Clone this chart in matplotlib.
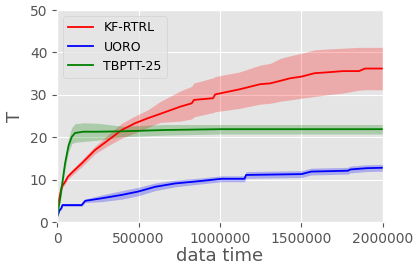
import matplotlib
matplotlib.use("Agg")
import matplotlib.pyplot as plt

# KF-RTRL
x_kf = [0, 12000, 28000, 49000, 66000, 100000, 150000, 233000, 313000, 397000,
        478000, 558000, 632000, 755000, 826000, 840000, 957000, 970000, 1120000, 1245000,
        1307000, 1370000, 1430000, 1500000, 1580000, 1655000, 1755000, 1853000, 1890000, 2000000]
kf_mean = [1.5, 5.4, 8.3, 9.5, 10.7, 12, 13.8, 17, 19.3, 21.7,
           23.3, 24.5, 25.5, 27.2, 28, 28.8, 29.2, 30.1, 31.3, 32.5,
           32.7, 33.3, 33.9, 34.3, 35.1, 35.3, 35.6, 35.6, 36.2, 36.2]
kf_lo = [1.3, 5.0, 7.8, 9.0, 10.1, 11.3, 13.0, 16.1, 18.0, 19.8,
         21.0, 22.3, 23.5, 23.8, 24.3, 24.8, 25.8, 26.0, 26.8, 27.8,
         28.0, 28.5, 28.8, 29.2, 29.6, 30.0, 30.4, 31.1, 31.2, 31.2]
kf_hi = [1.7, 5.8, 8.8, 10.0, 11.3, 12.7, 14.6, 17.9, 20.6, 23.3,
         25.0, 26.5, 28.4, 30.9, 32.0, 32.8, 34.0, 34.3, 35.4, 37.0,
         37.4, 38.6, 39.2, 39.8, 40.6, 40.8, 41.0, 41.2, 41.2, 41.2]

# UORO
x_uo = [0, 15000, 25000, 33000, 151000, 172000, 274000, 397000, 499000, 601000,
        724000, 888000, 1010000, 1150000, 1160000, 1500000, 1560000, 1785000, 1800000, 1900000, 2000000]
uo_mean = [1.25, 2.8, 3.2, 4.0, 4.0, 5.0, 5.6, 6.4, 7.2, 8.3,
           9.1, 9.7, 10.2, 10.2, 11.1, 11.3, 11.9, 12.1, 12.4, 12.7, 12.8]
uo_lo = [1.15, 2.6, 2.9, 3.7, 3.7, 4.6, 4.8, 5.4, 6.2, 7.4,
         8.3, 9.0, 9.5, 9.5, 10.3, 10.5, 11.1, 11.3, 11.6, 11.9, 12.0]
uo_hi = [1.35, 3.0, 3.5, 4.3, 4.3, 5.4, 6.4, 7.4, 8.2, 9.2,
         9.9, 10.4, 10.9, 10.9, 11.9, 12.1, 12.7, 12.9, 13.2, 13.5, 13.6]

# TBPTT-25
x_tb = [0, 20000, 49000, 70000, 90000, 110000, 160000, 250000, 400000, 660000, 1000000, 2000000]
tb_mean = [1.3, 6, 13.9, 18, 20.1, 21, 21.3, 21.3, 21.4, 21.7, 21.9, 21.9]
tb_lo = [1.0, 5, 12.5, 16.5, 18.5, 18.8, 19.0, 19.3, 20.1, 20.5, 20.75, 20.75]
tb_hi = [1.6, 7, 15.3, 19.8, 22.3, 23.2, 23.4, 23.3, 22.6, 23.0, 23.0, 23.0]

plt.style.use("ggplot")
fig = plt.figure(figsize=(4.14, 2.64), dpi=100)
ax = fig.add_axes([0.138, 0.159, 0.787, 0.803])

ax.fill_between(x_kf, kf_lo, kf_hi, color="red", alpha=0.25, linewidth=0)
ax.fill_between(x_uo, uo_lo, uo_hi, color="blue", alpha=0.25, linewidth=0)
ax.fill_between(x_tb, tb_lo, tb_hi, color="green", alpha=0.25, linewidth=0)
ax.plot(x_kf, kf_mean, color="red", lw=1.3, label="KF-RTRL")
ax.plot(x_uo, uo_mean, color="blue", lw=1.3, label="UORO")
ax.plot(x_tb, tb_mean, color="green", lw=1.3, label="TBPTT-25")

ax.set_xlim(0, 2000000)
ax.set_ylim(0, 50)
ax.set_xticks([0, 500000, 1000000, 1500000, 2000000])
ax.set_xticklabels(["0", "500000", "1000000", "1500000", "2000000"])
ax.set_yticks([0, 10, 20, 30, 40, 50])
ax.tick_params(labelsize=10)
ax.set_xlabel("data time", fontsize=13, labelpad=1)
ax.set_ylabel("T", fontsize=13)
ax.legend(loc="upper left", fontsize=9)

fig.savefig("out.png", dpi=100)
